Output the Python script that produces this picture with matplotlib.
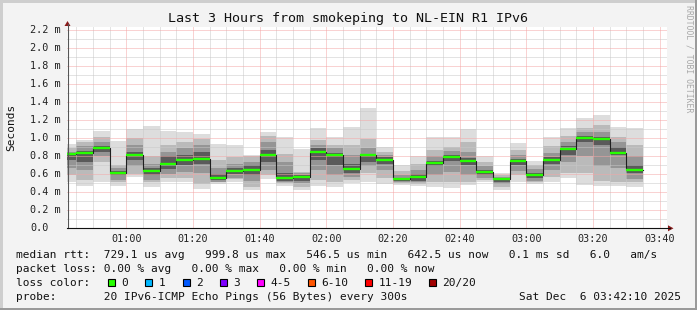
import numpy as np
import matplotlib
matplotlib.use("Agg")
import matplotlib.pyplot as plt
from matplotlib.patches import Rectangle, Polygon
from matplotlib.lines import Line2D
from matplotlib.transforms import blended_transform_factory

W, H = 697, 310

# one 5-minute step each, start given in minutes after midnight (00:40 .. 03:30)
step_start = np.arange(40, 215, 5)

# median rtt in ms
median = [0.83, 0.84, 0.89, 0.62, 0.82, 0.64, 0.72, 0.76, 0.77, 0.56,
          0.64, 0.65, 0.82, 0.56, 0.57, 0.85, 0.82, 0.66, 0.81, 0.76,
          0.55, 0.57, 0.73, 0.79, 0.75, 0.63, 0.546, 0.75, 0.59, 0.76,
          0.88, 1.00, 0.99, 0.84, 0.643]

# smoke: sorted ping values, pairs from the outside in (ms)
ping_min = [0.51, 0.47, 0.51, 0.47, 0.57, 0.46, 0.51, 0.51, 0.44, 0.49,
            0.51, 0.43, 0.55, 0.47, 0.43, 0.47, 0.46, 0.50, 0.51, 0.49,
            0.48, 0.47, 0.46, 0.45, 0.48, 0.51, 0.43, 0.51, 0.49, 0.51,
            0.56, 0.48, 0.47, 0.47, 0.46]
ping_max = [0.94, 0.98, 1.08, 0.97, 1.10, 1.14, 1.08, 1.07, 1.05, 0.94,
            0.93, 0.82, 1.07, 1.01, 0.88, 1.11, 1.01, 1.13, 1.34, 0.90,
            0.70, 0.80, 1.01, 1.01, 1.10, 0.80, 0.62, 0.95, 0.75, 1.01,
            1.11, 1.23, 1.26, 1.13, 1.11]
p3_lo = [0.59, 0.54, 0.74, 0.51, 0.60, 0.51, 0.56, 0.56, 0.49, 0.51,
         0.55, 0.46, 0.59, 0.50, 0.46, 0.54, 0.51, 0.54, 0.62, 0.56,
         0.50, 0.49, 0.51, 0.51, 0.51, 0.54, 0.46, 0.59, 0.51, 0.57,
         0.62, 0.61, 0.53, 0.51, 0.51]
p3_hi = [0.89, 0.96, 1.01, 0.70, 1.00, 0.80, 0.93, 0.96, 0.99, 0.76,
         0.79, 0.80, 1.03, 0.83, 0.63, 0.98, 0.93, 0.93, 0.99, 0.85,
         0.64, 0.71, 0.87, 0.90, 0.96, 0.74, 0.59, 0.87, 0.70, 0.92,
         1.03, 1.12, 1.15, 1.02, 0.93]
p6_lo = [0.67, 0.65, 0.80, 0.54, 0.69, 0.54, 0.60, 0.63, 0.61, 0.52,
         0.56, 0.53, 0.65, 0.51, 0.50, 0.65, 0.59, 0.57, 0.69, 0.65,
         0.51, 0.51, 0.59, 0.63, 0.59, 0.56, 0.49, 0.64, 0.53, 0.65,
         0.74, 0.80, 0.69, 0.67, 0.55]
p6_hi = [0.85, 0.91, 0.96, 0.67, 0.93, 0.72, 0.85, 0.89, 0.93, 0.67,
         0.72, 0.74, 0.96, 0.74, 0.61, 0.93, 0.89, 0.81, 0.89, 0.81,
         0.59, 0.65, 0.80, 0.86, 0.85, 0.69, 0.57, 0.81, 0.66, 0.84,
         0.96, 1.07, 1.07, 0.96, 0.80]
p9_lo = [0.76, 0.74, 0.85, 0.59, 0.76, 0.59, 0.66, 0.70, 0.72, 0.54,
         0.60, 0.59, 0.74, 0.53, 0.53, 0.76, 0.70, 0.62, 0.74, 0.72,
         0.53, 0.53, 0.69, 0.75, 0.70, 0.59, 0.52, 0.70, 0.56, 0.72,
         0.82, 0.96, 0.93, 0.81, 0.61]
p9_hi = [0.83, 0.86, 0.92, 0.64, 0.85, 0.67, 0.80, 0.81, 0.85, 0.60,
         0.67, 0.70, 0.87, 0.61, 0.59, 0.89, 0.84, 0.72, 0.83, 0.79,
         0.56, 0.60, 0.75, 0.82, 0.78, 0.65, 0.56, 0.77, 0.62, 0.79,
         0.91, 1.03, 1.02, 0.90, 0.70]

x_labels = ["01:00", "01:20", "01:40", "02:00", "02:20", "02:40", "03:00", "03:20", "03:40"]

loss_labels = ["0", "1", "2", "3", "4-5", "6-10", "11-19", "20/20"]
loss_colors = ["#26ff00", "#00b8ff", "#0059ff", "#7e00ff", "#ff00ff", "#ff5500", "#ff0000", "#a10000"]

title = "Last 3 Hours from smokeping to NL-EIN R1 IPv6"
line_rtt = "median rtt:  729.1 us avg   999.8 us max   546.5 us min   642.5 us now   0.1 ms sd   6.0   am/s"
line_loss = "packet loss: 0.00 % avg   0.00 % max   0.00 % min   0.00 % now"
line_probe = "probe:       20 IPv6-ICMP Echo Pings (56 Bytes) every 300s"
stamp = "Sat Dec  6 03:42:10 2025"

MONO = "DejaVu Sans Mono"
plt.rcParams["font.family"] = [MONO]

# window is last 3 hours up to 03:42:10
t_end = 3 * 60 + 42 + 10 / 60
t_start = t_end - 180


def fx(x):
    return x / W


def fy(y):
    return 1 - y / H


fig = plt.figure(figsize=(W / 100, H / 100), dpi=100, facecolor="#f3f3f3")

# 3d frame
fig.add_artist(Rectangle((0, fy(2.5)), 1, fy(0) - fy(2.5), transform=fig.transFigure, color="#cecece", lw=0))
fig.add_artist(Rectangle((0, 0), fx(2.5), 1, transform=fig.transFigure, color="#cecece", lw=0))
fig.add_artist(Rectangle((fx(694.5), 0), 1, 1, transform=fig.transFigure, color="#9a9a9a", lw=0))
fig.add_artist(Rectangle((0, 0), 1, fy(307.5), transform=fig.transFigure, color="#9a9a9a", lw=0))

y0_px, ytop_px = 228.3, 26.7
ax = fig.add_axes([fx(67), fy(y0_px), fx(667) - fx(67), fy(ytop_px) - fy(y0_px)])
ax.set_facecolor("white")
ax.set_xlim(t_start, t_end)
ax.set_ylim(0, (y0_px - ytop_px) / 90)

edges = np.r_[step_start, step_start[-1] + 5]


def ext(a):
    return np.r_[a, a[-1]]


bands = [(ping_min, ping_max, "#dddddd"),
         (p3_lo, p3_hi, "#bababa"),
         (p6_lo, p6_hi, "#959595"),
         (p9_lo, p9_hi, "#5a5a5a")]
for lo, hi, col in bands:
    ax.fill_between(edges, ext(lo), ext(hi), step="post", color=col, lw=0, zorder=1)

ax.step(edges, ext(median), where="post", color="#202020", lw=0.8, zorder=3)
ax.hlines(median, step_start, step_start + 5, color=loss_colors[0], lw=1.7, zorder=4)

# grid
ax.set_xticks(np.arange(60, 221, 20))
ax.set_xticks(np.arange(45, 222, 5), minor=True)
ax.set_yticks(np.arange(0, 2.21, 0.2))
ax.set_yticks(np.arange(0.1, 2.2, 0.2), minor=True)
ax.set_axisbelow(False)
ax.grid(which="minor", color="#c8c8c8", ls=(0, (1, 1)), lw=0.72, zorder=2)
ax.grid(which="major", color="#f4a6a6", ls=(0, (1, 1)), lw=0.72, zorder=2)
ax.set_xticklabels(x_labels, fontsize=7.3, color="#222222")
ax.set_yticklabels([])
ax.tick_params(which="both", length=0)
ax.tick_params(axis="x", pad=4)
for s in ax.spines.values():
    s.set_visible(False)

trans = blended_transform_factory(fig.transFigure, ax.transData)
for v in np.arange(0, 2.21, 0.2):
    lab = "%.1f m" % v if v > 0.01 else "0.0"
    ax.text(fx(30), v, lab, transform=trans, ha="left", va="center", fontsize=7.3, color="#222222")

# axes with arrows
fig.add_artist(Line2D([fx(67.5), fx(67.5)], [fy(y0_px), fy(24)], color="#555555", lw=0.8))
fig.add_artist(Line2D([fx(67), fx(670)], [fy(y0_px), fy(y0_px)], color="#111111", lw=0.8))
fig.add_artist(Polygon([(fx(64.5), fy(26)), (fx(70.5), fy(26)), (fx(67.5), fy(21))],
                       closed=True, transform=fig.transFigure, color="#8b1a1a", lw=0))
fig.add_artist(Polygon([(fx(668), fy(225.3)), (fx(668), fy(231.3)), (fx(673.5), fy(228.3))],
                       closed=True, transform=fig.transFigure, color="#8b1a1a", lw=0))

# titles
fig.text(fx(348), fy(18.5), title, ha="center", va="center", fontsize=9.6, color="#111111")
fig.text(fx(11), fy(127), "Seconds", rotation=90, ha="center", va="center", fontsize=8, color="#111111")
fig.text(fx(688.5), fy(5), "RRDTOOL / TOBI OETIKER", rotation=270, ha="center", va="top",
         fontsize=5.9, color="#a8a8a8")

# legend
fs = 8.0
adv = 6.75
fig.text(fx(16), fy(258), line_rtt, ha="left", va="baseline", fontsize=fs, color="#111111")
fig.text(fx(16), fy(272), line_loss, ha="left", va="baseline", fontsize=fs, color="#111111")
fig.text(fx(16), fy(286), "loss color:", ha="left", va="baseline", fontsize=fs, color="#111111")
fig.text(fx(16), fy(300), line_probe, ha="left", va="baseline", fontsize=fs, color="#111111")
fig.text(fx(681), fy(300), stamp, ha="right", va="baseline", fontsize=fs, color="#111111")

bx = 108.3
for lab, col in zip(loss_labels, loss_colors):
    fig.add_artist(Rectangle((fx(bx), fy(286)), fx(7), fy(279) - fy(286), transform=fig.transFigure,
                             facecolor=col, edgecolor="black", lw=0.8))
    lx = bx + 13.4
    fig.text(fx(lx), fy(286), lab, ha="left", va="baseline", fontsize=fs, color="#111111")
    bx = lx + len(lab) * adv + 17

fig.savefig("out.png", dpi=100, facecolor=fig.get_facecolor())
